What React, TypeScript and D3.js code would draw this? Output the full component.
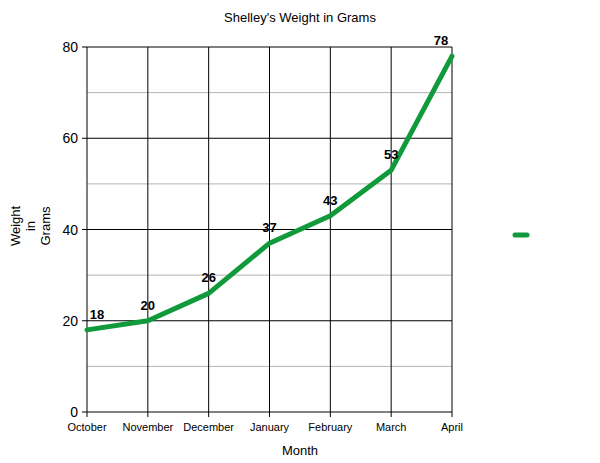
import React from "react";
import * as d3 from "d3";

const months = ["October", "November", "December", "January", "February", "March", "April"];
const weights = [18, 20, 26, 37, 43, 53, 78];
const majorTicks = [0, 20, 40, 60, 80];
const minorTicks = [10, 30, 50, 70];

const W = 600, H = 463;
const left = 87, right = 452, top = 47, bottom = 412;
const color = "#119a3b";

export default function App() {
  const x = d3.scalePoint<string>().domain(months).range([left, right]);
  const y = d3.scaleLinear().domain([0, 80]).range([bottom, top]);
  const line = d3.line<number>().x((_, i) => x(months[i])!).y(d => y(d));
  const font = "Arial, 'Liberation Sans', sans-serif";
  return (
    <svg width={W} height={H} style={{ position: "absolute", left: 0, top: 0 }} fontFamily={font}>
      <rect width={W} height={H} fill="#fff" />
      <text x={300} y={22} textAnchor="middle" fontSize={13}>Shelley's Weight in Grams</text>
      {minorTicks.map(t => (
        <line key={"m" + t} x1={left} x2={right} y1={y(t)} y2={y(t)} stroke="#b3b3b3" strokeWidth={1} />
      ))}
      {majorTicks.map(t => (
        <g key={"M" + t}>
          <line x1={left - 5} x2={right} y1={y(t)} y2={y(t)} stroke="#000" strokeWidth={1} />
          <text x={left - 9} y={y(t) + 5} textAnchor="end" fontSize={14}>{t}</text>
        </g>
      ))}
      {months.map(m => (
        <g key={m}>
          <line x1={x(m)} x2={x(m)} y1={top} y2={bottom + 5} stroke="#000" strokeWidth={1} />
          <text x={x(m)} y={bottom + 19} textAnchor="middle" fontSize={11}>{m}</text>
        </g>
      ))}
      <text x={300} y={455} textAnchor="middle" fontSize={13}>Month</text>
      <text transform={`translate(20,226) rotate(-90)`} textAnchor="middle" fontSize={13}>Weight</text>
      <text transform={`translate(35,226) rotate(-90)`} textAnchor="middle" fontSize={13}>in</text>
      <text transform={`translate(50,226) rotate(-90)`} textAnchor="middle" fontSize={13}>Grams</text>
      <path d={line(weights)!} fill="none" stroke={color} strokeWidth={5} strokeLinejoin="round" strokeLinecap="round" />
      {weights.map((v, i) => {
        const px = x(months[i])!;
        const lx = Math.min(Math.max(px, left + 10), right - 11);
        return (
          <text key={i} x={lx} y={y(v) - 11} textAnchor="middle" fontSize={13} fontWeight="bold">{v}</text>
        );
      })}
      <line x1={515} x2={527} y1={235} y2={235} stroke={color} strokeWidth={5} strokeLinecap="round" />
    </svg>
  );
}
